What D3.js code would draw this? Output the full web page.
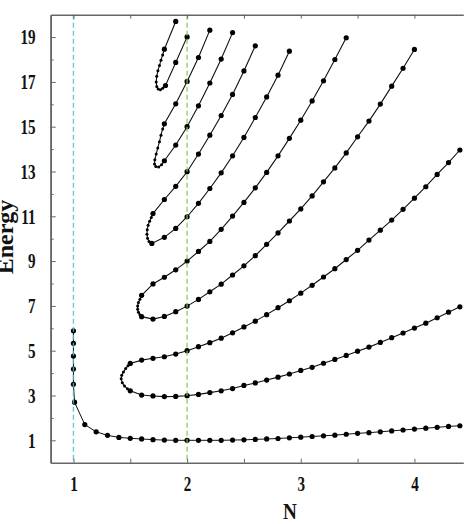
<!DOCTYPE html>
<html lang="en">
<head>
<meta charset="UTF-8">
<title>Energy vs N</title>
<style>
  body { margin: 0; background: #fff; }
  svg { display: block; }
  .tick text { font-family: "Liberation Serif", "DejaVu Serif", serif; font-weight: bold; font-size: 21px; fill: #111; }
</style>
</head>
<body>
<svg id="chart" width="474" height="524"></svg>
<script src="https://d3js.org/d3.v7.min.js"></script>
<script>

// ground level, starts on the N = 1 line
var ground = [
  [1, 5.89], [1, 5.33], [1, 4.76], [1, 4.18], [1, 3.5], [1.01, 2.7], [1.1, 1.7], [1.2, 1.38],
  [1.3, 1.22], [1.4, 1.13], [1.5, 1.09], [1.6, 1.06], [1.7, 1.03], [1.8, 1.01], [1.9, 1.0],
  [2.0, 1.0], [2.1, 1.0], [2.2, 1.0], [2.3, 1.0], [2.4, 1.01], [2.5, 1.02], [2.6, 1.04],
  [2.7, 1.06], [2.8, 1.08], [2.9, 1.11], [3.0, 1.14], [3.1, 1.17], [3.2, 1.2], [3.3, 1.23],
  [3.4, 1.27], [3.5, 1.31], [3.6, 1.34], [3.7, 1.38], [3.8, 1.42], [3.9, 1.46], [4.0, 1.5],
  [4.1, 1.54], [4.2, 1.58], [4.3, 1.62], [4.4, 1.65]
];

// band A (E = 3 / 5 at N = 2)
var bandAUpper = [
  [1.5, 4.43], [1.6, 4.58], [1.7, 4.66], [1.8, 4.73], [1.9, 4.85], [2.0, 5.0], [2.1, 5.18],
  [2.2, 5.36], [2.3, 5.56], [2.4, 5.8], [2.5, 6.06], [2.6, 6.32], [2.7, 6.61], [2.8, 6.92],
  [2.9, 7.23], [3.0, 7.57], [3.1, 7.92], [3.2, 8.29], [3.3, 8.66], [3.4, 9.07], [3.5, 9.48],
  [3.6, 9.94], [3.7, 10.38], [3.8, 10.83], [3.9, 11.31], [4.0, 11.81], [4.1, 12.32],
  [4.2, 12.87], [4.3, 13.4], [4.4, 13.96]
];
var bandATurn = [
  [1.48, 4.33], [1.46, 4.2], [1.44, 4.05], [1.425, 3.9], [1.42, 3.75], [1.43, 3.57],
  [1.45, 3.42], [1.475, 3.3]
];
var bandALower = [
  [1.5, 3.21], [1.6, 3.02], [1.7, 2.98], [1.8, 2.95], [1.9, 2.96], [2.0, 2.99], [2.1, 3.05],
  [2.2, 3.13], [2.3, 3.21], [2.4, 3.31], [2.5, 3.45], [2.6, 3.56], [2.7, 3.69], [2.8, 3.82],
  [2.9, 3.96], [3.0, 4.12], [3.1, 4.26], [3.2, 4.44], [3.3, 4.61], [3.4, 4.79], [3.5, 4.98],
  [3.6, 5.16], [3.7, 5.37], [3.8, 5.58], [3.9, 5.79], [4.0, 6.01], [4.1, 6.23], [4.2, 6.47],
  [4.3, 6.72], [4.4, 6.96]
];

// band B (E = 7 / 9)
var bandBUpper = [
  [1.6, 7.47], [1.7, 7.98], [1.8, 8.28], [1.9, 8.61], [2.0, 9.0], [2.1, 9.43], [2.2, 9.88],
  [2.3, 10.42], [2.4, 11.01], [2.5, 11.62], [2.6, 12.27], [2.7, 12.96], [2.8, 13.7],
  [2.9, 14.48], [3.0, 15.29], [3.1, 16.15], [3.2, 17.05], [3.3, 18.0], [3.4, 18.97]
];
var bandBTurn = [
  [1.585, 7.3], [1.572, 7.15], [1.565, 7.0], [1.565, 6.85], [1.572, 6.72], [1.585, 6.6]
];
var bandBLower = [
  [1.6, 6.52], [1.7, 6.41], [1.8, 6.53], [1.9, 6.74], [2.0, 6.99], [2.1, 7.29], [2.2, 7.63],
  [2.3, 7.97], [2.4, 8.38], [2.5, 8.79], [2.6, 9.24], [2.7, 9.75], [2.8, 10.26], [2.9, 10.79],
  [3.0, 11.33], [3.1, 11.91], [3.2, 12.54], [3.3, 13.16], [3.4, 13.83], [3.5, 14.55],
  [3.6, 15.25], [3.7, 16.01], [3.8, 16.81], [3.9, 17.61], [4.0, 18.45]
];

// band C (E = 11 / 13)
var bandCUpper = [
  [1.7, 11.12], [1.8, 11.75], [1.9, 12.34], [2.0, 12.99], [2.1, 13.78], [2.2, 14.62],
  [2.3, 15.5], [2.4, 16.44], [2.5, 17.49], [2.6, 18.61]
];
var bandCTurn = [
  [1.685, 10.95], [1.67, 10.78], [1.657, 10.6], [1.649, 10.4], [1.647, 10.2], [1.652, 10.02],
  [1.665, 9.88]
];
var bandCLower = [
  [1.69, 9.79], [1.8, 10.06], [1.9, 10.46], [2.0, 10.98], [2.1, 11.58], [2.2, 12.24],
  [2.3, 12.94], [2.4, 13.7], [2.5, 14.52], [2.6, 15.41], [2.7, 16.33], [2.8, 17.3], [2.9, 18.37]
];

// band D (E = 15 / 17)
var bandDUpper = [[1.8, 15.13], [1.9, 16.02], [2.0, 17.02], [2.1, 18.09], [2.2, 19.31]];
var bandDTurn = [
  [1.785, 14.9], [1.77, 14.62], [1.757, 14.33], [1.742, 14.05], [1.728, 13.78], [1.716, 13.53],
  [1.713, 13.33], [1.725, 13.22], [1.75, 13.2], [1.775, 13.3]
];
var bandDLower = [[1.8, 13.48], [1.9, 14.18], [2.0, 15.0], [2.1, 15.93], [2.2, 16.95], [2.3, 18.02], [2.4, 19.2]];

// band E (E = 19 / 21)
var bandEUpper = [[1.8, 18.46], [1.9, 19.7]];
var bandETurn = [
  [1.785, 18.2], [1.77, 17.97], [1.757, 17.73], [1.743, 17.5], [1.733, 17.25], [1.728, 17.0],
  [1.733, 16.8], [1.745, 16.68], [1.765, 16.65], [1.785, 16.72]
];
var bandELower = [[1.81, 16.84], [1.9, 17.87], [2.0, 19.01]];

var yLabels = [1, 3, 5, 7, 9, 11, 13, 15, 17, 19];
var yMinor = [2, 4, 6, 8, 10, 12, 14, 16, 18];
var xLabels = [1, 2, 3, 4];
var xTicks = [1, 1.5, 2, 2.5, 3, 3.5, 4];
var markerLines = [1, 2];

var svg = d3.select("#chart"),
  plotLeft = 50.7, plotRight = 463.3, plotTop = 14.7, plotBottom = 462.7;

var x = d3.scaleLinear().domain([0.8, 4.43]).range([plotLeft, plotRight]);
var y = d3.scaleLinear().domain([0, 20]).range([plotBottom, plotTop]);

var bands = [
  [bandAUpper, bandATurn, bandALower],
  [bandBUpper, bandBTurn, bandBLower],
  [bandCUpper, bandCTurn, bandCLower],
  [bandDUpper, bandDTurn, bandDLower],
  [bandEUpper, bandETurn, bandELower]
];

var line = d3.line()
  .x(function (d) { return x(d[0]); })
  .y(function (d) { return y(d[1]); });

var plot = svg.append("g");

plot.append("path")
  .attr("d", line(ground))
  .attr("fill", "none").attr("stroke", "#111").attr("stroke-width", 1);

bands.forEach(function (b) {
  var pts = b[0].slice().reverse().concat(b[1], b[2]);
  plot.append("path")
    .attr("d", line(pts))
    .attr("fill", "none").attr("stroke", "#111").attr("stroke-width", 1.1);
});

var bigDots = ground.slice();
var smallDots = [];
bands.forEach(function (b) {
  bigDots = bigDots.concat(b[0], b[2]);
  smallDots = smallDots.concat(b[1]);
});

plot.selectAll("circle.big")
  .data(bigDots).enter().append("circle")
  .attr("class", "big")
  .attr("cx", function (d) { return x(d[0]); })
  .attr("cy", function (d) { return y(d[1]); })
  .attr("r", 2.6).attr("fill", "#000");

plot.selectAll("circle.small")
  .data(smallDots).enter().append("circle")
  .attr("class", "small")
  .attr("cx", function (d) { return x(d[0]); })
  .attr("cy", function (d) { return y(d[1]); })
  .attr("r", 1.5).attr("fill", "#000");

// dashed guides at N = 1 and N = 2
plot.selectAll("line.guide")
  .data(markerLines).enter().append("line")
  .attr("class", "guide")
  .attr("x1", function (d) { return x(d); }).attr("x2", function (d) { return x(d); })
  .attr("y1", plotTop).attr("y2", plotBottom)
  .attr("stroke", function (d) { return d === 1 ? "#48c4cc" : "#7fc858"; })
  .attr("stroke-width", 1.4)
  .attr("stroke-dasharray", "5,3")
  .attr("opacity", 0.85);

// axes
var axisColor = "#666";

var yAxis = svg.append("g").attr("transform", "translate(" + plotLeft + ",0)")
  .call(d3.axisLeft(y).tickValues(yLabels).tickSize(-5).tickSizeOuter(0).tickPadding(15));
yAxis.selectAll(".tick text").attr("x", -21).attr("transform", "scale(0.72,1)");

svg.append("g").attr("transform", "translate(" + plotLeft + ",0)")
  .call(d3.axisLeft(y).tickValues(yMinor).tickSize(-3).tickSizeOuter(0).tickFormat(""));

var xAxis = svg.append("g").attr("transform", "translate(0," + plotBottom + ")")
  .call(d3.axisBottom(x).tickValues(xTicks).tickSize(-4).tickSizeOuter(0).tickPadding(13)
    .tickFormat(function (d) { return xLabels.indexOf(d) >= 0 ? d : ""; }));
xAxis.selectAll(".tick text").attr("transform", "scale(0.72,1)");

svg.append("g").attr("transform", "translate(0," + plotTop + ")")
  .call(d3.axisTop(x).tickValues(xTicks).tickSize(-4).tickSizeOuter(0).tickFormat(""));

svg.selectAll(".domain").attr("stroke", axisColor).attr("stroke-width", 1.6);
svg.selectAll(".tick line").attr("stroke", axisColor).attr("stroke-width", 1);

// axis titles
svg.append("text")
  .attr("transform", "translate(290,519) scale(0.8,1)")
  .attr("text-anchor", "middle")
  .style("font-family", "'Liberation Serif', serif").style("font-weight", "bold")
  .style("font-size", "24px").attr("fill", "#111")
  .text("N");

svg.append("text")
  .attr("transform", "translate(13,237) rotate(-90)")
  .attr("text-anchor", "middle")
  .style("font-family", "'Liberation Serif', serif").style("font-weight", "bold")
  .style("font-size", "24px").attr("fill", "#111")
  .text("Energy");

</script>
</body>
</html>
